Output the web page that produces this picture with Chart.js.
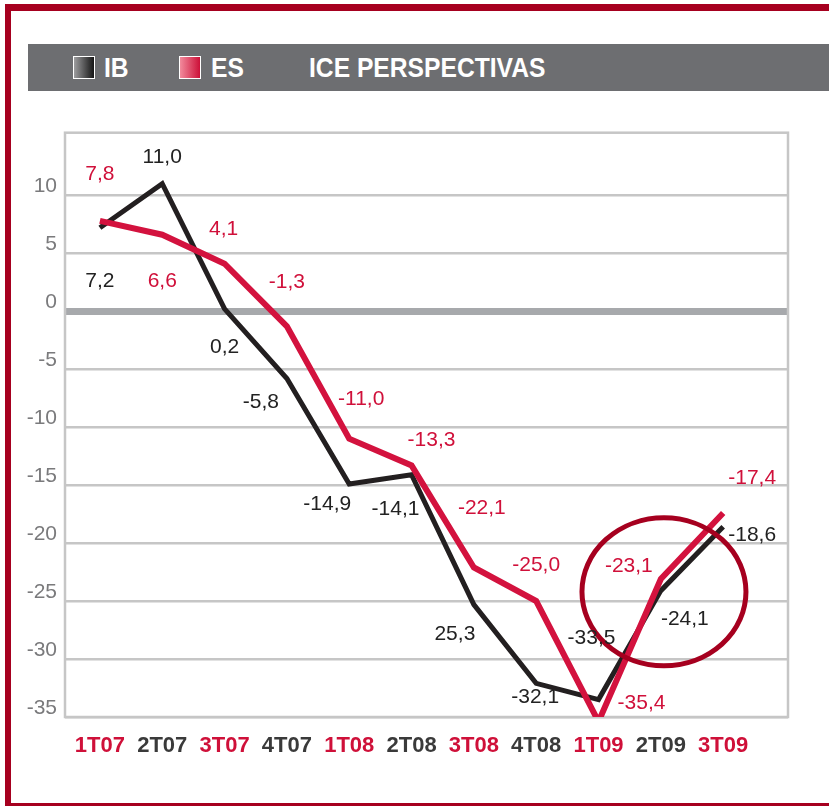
<!DOCTYPE html>
<html>
<head>
<meta charset="utf-8">
<title>ICE perspectivas</title>
<script src="https://cdn.jsdelivr.net/npm/chart.js@4.4.1/dist/chart.umd.min.js"></script>
<style>
  html, body { margin: 0; padding: 0; background: #fff; }
  #page { position: relative; width: 829px; height: 806px; overflow: hidden; }
  #frame {
    position: absolute; left: 5px; top: 4px; width: 840px; height: 792px;
    border-left: 6px solid #a6001f; border-top: 7px solid #a6001f; border-bottom: 3px solid #a6001f;
  }
  #bar { position: absolute; left: 28px; top: 44px; width: 801px; height: 47px; background: #6d6e71; }
  .sw { position: absolute; top: 56px; width: 20px; height: 21px; border: 1.5px solid #fff; }
  .lbl {
    position: absolute; top: 44px; height: 47px; line-height: 47px; color: #fff;
    font-family: 'Liberation Sans', Arial, Helvetica, sans-serif;
    font-weight: bold; font-size: 28px; white-space: nowrap;
    transform: scaleX(0.88); transform-origin: left center;
  }
  #chart { position: absolute; left: 0; top: 0; }
</style>
</head>
<body>
<div id="page">
  <div id="frame"></div>
  <div id="bar"></div>
  <div class="sw" style="left:73px;background:linear-gradient(to right,#9d9d9f,#141414);"></div>
  <div class="lbl" style="left:104px;">IB</div>
  <div class="sw" style="left:179px;background:linear-gradient(to right,#f28a9c,#cc1038);"></div>
  <div class="lbl" style="left:211px;">ES</div>
  <div class="lbl" style="left:309px;">ICE PERSPECTIVAS</div>
  <canvas id="chart" width="829" height="806"></canvas>
</div>
<script>
// Quarters and series
const quarters = ['1T07', '2T07', '3T07', '4T07', '1T08', '2T08', '3T08', '4T08', '1T09', '2T09', '3T09'];
const ibValues = [7.2, 11.0, 0.2, -5.8, -14.9, -14.1, -25.3, -32.1, -33.5, -24.1, -18.6];
const esValues = [7.8, 6.6, 4.1, -1.3, -11.0, -13.3, -22.1, -25.0, -35.4, -23.1, -17.4];
const yTicks = [10, 5, 0, -5, -10, -15, -20, -25, -30, -35];

// the printed label of IB 3T08 has no minus sign in the original
const ibTextOverride = { 6: '25,3' };

// label placement (pixel offsets from each point)
const ibLabelOffsets = [[0, 53], [0, -27], [0, 38], [-26, 24], [-22, 20], [-16, 35], [-19, 30], [-1, 14], [-7, -61], [24, 29], [29, 8]];
const esLabelOffsets = [[0, -47], [0, 46], [-1, -35], [0, -44], [12, -40], [20, -25], [8, -59], [0, -36], [43, -18], [-32, -13], [29, -35]];

const RED = '#d3123e';
const BLACK = '#231f20';
const FONT = "'Liberation Sans', Arial, Helvetica, sans-serif";

function fmt(v) {
  return v.toFixed(1).replace('.', ',');
}

// grey frame around the plot area
const framePlugin = {
  id: 'frame',
  beforeDatasetsDraw(chart) {
    const a = chart.chartArea;
    const ctx = chart.ctx;
    ctx.save();
    ctx.strokeStyle = '#c6c6c6';
    ctx.lineWidth = 2.5;
    ctx.strokeRect(a.left, a.top, a.right - a.left, a.bottom - a.top);
    ctx.restore();
  }
};

// red ellipse around the latest quarters, then the value labels
const notesPlugin = {
  id: 'notes',
  afterDatasetsDraw(chart) {
    const ctx = chart.ctx;
    const xs = chart.scales.x;
    const ys = chart.scales.y;
    ctx.save();
    ctx.strokeStyle = '#a6001f';
    ctx.lineWidth = 5;
    ctx.beginPath();
    ctx.ellipse(xs.getPixelForValue(9.05), ys.getPixelForValue(-24.2), 82, 74, 0, 0, Math.PI * 2);
    ctx.stroke();

    ctx.font = '21px ' + FONT;
    ctx.textAlign = 'center';
    ctx.textBaseline = 'middle';
    chart.data.datasets.forEach(function (ds, d) {
      const meta = chart.getDatasetMeta(d);
      meta.data.forEach(function (pt, i) {
        const off = ds.labelOffsets[i];
        let text = fmt(ds.data[i].y);
        if (ds.textOverride && ds.textOverride[i]) text = ds.textOverride[i];
        ctx.fillStyle = ds.labelColor;
        ctx.fillText(text, pt.x + off[0], pt.y + off[1]);
      });
    });
    ctx.restore();
  }
};

new Chart(document.getElementById('chart').getContext('2d'), {
  type: 'line',
  data: {
    datasets: [{
      label: 'IB',
      data: ibValues.map((v, i) => ({ x: i, y: v })),
      borderColor: BLACK,
      borderWidth: 5,
      order: 1,
      labelColor: '#222',
      labelOffsets: ibLabelOffsets,
      textOverride: ibTextOverride
    }, {
      label: 'ES',
      data: esValues.map((v, i) => ({ x: i, y: v })),
      borderColor: RED,
      borderWidth: 6,
      order: 0,
      labelColor: '#d0103a',
      labelOffsets: esLabelOffsets
    }]
  },
  options: {
    responsive: false,
    animation: false,
    layout: { padding: { left: 0, top: 132.7, right: 41, bottom: 39 } },
    elements: {
      point: { radius: 0, hoverRadius: 0 },
      line: { tension: 0, borderJoinStyle: 'miter', borderCapStyle: 'butt', fill: false }
    },
    plugins: {
      legend: { display: false },
      tooltip: { enabled: false }
    },
    scales: {
      x: {
        type: 'linear',
        min: -0.56,
        max: 11.04,
        afterBuildTicks: function (s) { s.ticks = quarters.map((q, i) => ({ value: i })); },
        afterFit: function (s) { s.height = 50; },
        grid: { display: false, drawTicks: false },
        border: { display: false },
        ticks: {
          autoSkip: false,
          maxRotation: 0,
          padding: 16,
          color: c => (c.index % 2 ? '#3a3a3a' : '#cf1039'),
          font: { family: FONT, size: 22, weight: 'bold' },
          callback: v => quarters[v]
        }
      },
      y: {
        min: -35,
        max: 15.4,
        afterBuildTicks: function (s) { s.ticks = yTicks.map(v => ({ value: v })); },
        afterFit: function (s) { s.width = 65; },
        grid: {
          drawTicks: false,
          color: c => (c.tick && c.tick.value === 0 ? '#a7a9ac' : '#c6c6c6'),
          lineWidth: c => (c.tick && c.tick.value === 0 ? 7 : 2.5)
        },
        border: { display: false },
        ticks: {
          padding: 8,
          labelOffset: -9,
          color: '#7a7a7c',
          font: { family: FONT, size: 21 },
          callback: v => String(v)
        }
      }
    }
  },
  plugins: [framePlugin, notesPlugin]
});
</script>
</body>
</html>
